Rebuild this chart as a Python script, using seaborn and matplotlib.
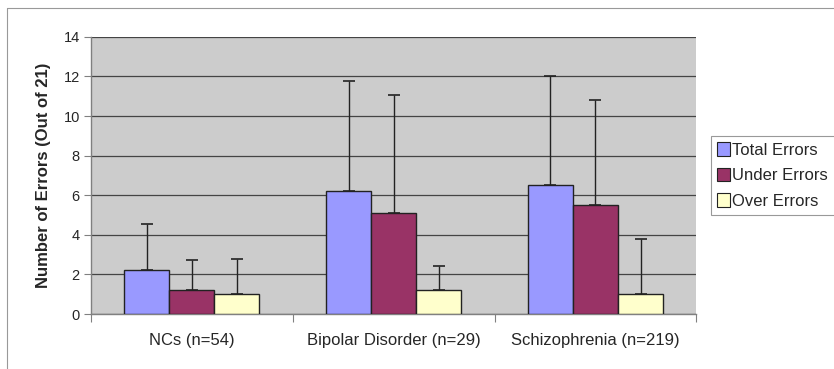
import matplotlib
matplotlib.use("Agg")
import matplotlib.pyplot as plt
from matplotlib.lines import Line2D
import seaborn as sns
import pandas as pd
import numpy as np

categories = ["NCs (n=54)", "Bipolar Disorder (n=29)", "Schizophrenia (n=219)"]
series = ["Total Errors", "Under Errors", "Over Errors"]
total_means = [2.2, 6.2, 6.5]
under_means = [1.2, 5.1, 5.5]
over_means = [1.0, 1.2, 1.0]
total_sd = [2.37, 5.55, 5.5]
under_sd = [1.55, 5.95, 5.3]
over_sd = [1.8, 1.22, 2.78]
colors = ["#9999FF", "#993366", "#FFFFCC"]

rows = []
for s, means in zip(series, [total_means, under_means, over_means]):
    for c, m in zip(categories, means):
        rows.append({"group": c, "series": s, "value": m})
df = pd.DataFrame(rows)
sds = {"Total Errors": total_sd, "Under Errors": under_sd, "Over Errors": over_sd}

sns.set_style("white")
plt.rcParams["font.family"] = ["Liberation Sans", "DejaVu Sans"]

fig = plt.figure(figsize=(8.34, 3.69), dpi=100)
ax = fig.add_axes([0.109, 0.149, 0.726, 0.751])
ax.set_facecolor("#CCCCCC")

sns.barplot(data=df, x="group", y="value", hue="series", order=categories,
            hue_order=series, palette=colors, saturation=1, width=0.67, gap=0,
            edgecolor="#222222", linewidth=1.0, errorbar=None, ax=ax, zorder=3)

for cont, s in zip(ax.containers, series):
    xs, ys = [], []
    for p in cont.patches:
        xs.append(p.get_x() + p.get_width() / 2)
        ys.append(p.get_height())
    err = sds[s]
    ax.errorbar(xs, ys, yerr=[np.zeros(len(err)), err], fmt="none",
                ecolor="#222222", elinewidth=1.0, capsize=4, capthick=1.2, zorder=4)

ax.set_ylim(0, 14)
ax.set_xlim(-0.5, 2.5)
ax.set_yticks(range(0, 15, 2))
ax.yaxis.grid(True, color="#444444", linewidth=0.9, zorder=0)
ax.set_axisbelow(True)
ax.tick_params(axis="y", which="major", length=5, width=0.8, color="#808080",
               labelsize=10.5, pad=3, direction="out", left=True)
ax.set_xticks([0, 1, 2])
ax.set_xticks([-0.5, 0.5, 1.5, 2.5], minor=True)
ax.tick_params(axis="x", which="major", length=0, labelsize=12, pad=14)
ax.tick_params(axis="x", which="minor", length=6, width=0.8, color="#808080",
               direction="out", bottom=True)
for sp in ["top", "right"]:
    ax.spines[sp].set_visible(False)
for sp in ["left", "bottom"]:
    ax.spines[sp].set_visible(True)
    ax.spines[sp].set_color("#808080")
    ax.spines[sp].set_linewidth(1.0)

ax.set_xlabel("")
ax.set_ylabel("Number of Errors (Out of 21)", fontsize=12, fontweight="bold", labelpad=9)

ax.get_legend().remove()
handles = [plt.Rectangle((0, 0), 1, 1, facecolor=c, edgecolor="#222222", linewidth=0.8)
           for c in colors]
leg = fig.legend(handles, series, loc="upper left", bbox_to_anchor=(0.852, 0.632),
                 fontsize=12, frameon=True, fancybox=False, handlelength=0.75,
                 handleheight=0.85, handletextpad=0.15, labelspacing=0.6,
                 borderpad=0.4, borderaxespad=0)
leg.get_frame().set_edgecolor("#808080")
leg.get_frame().set_linewidth(0.8)

fig.add_artist(Line2D([7 / 834, 1.0], [1 - 8 / 369, 1 - 8 / 369], color="#999999",
                      linewidth=0.8, transform=fig.transFigure))
fig.add_artist(Line2D([7 / 834, 7 / 834], [0.0, 1 - 8 / 369], color="#999999",
                      linewidth=0.8, transform=fig.transFigure))

fig.savefig("out.png", dpi=100)
